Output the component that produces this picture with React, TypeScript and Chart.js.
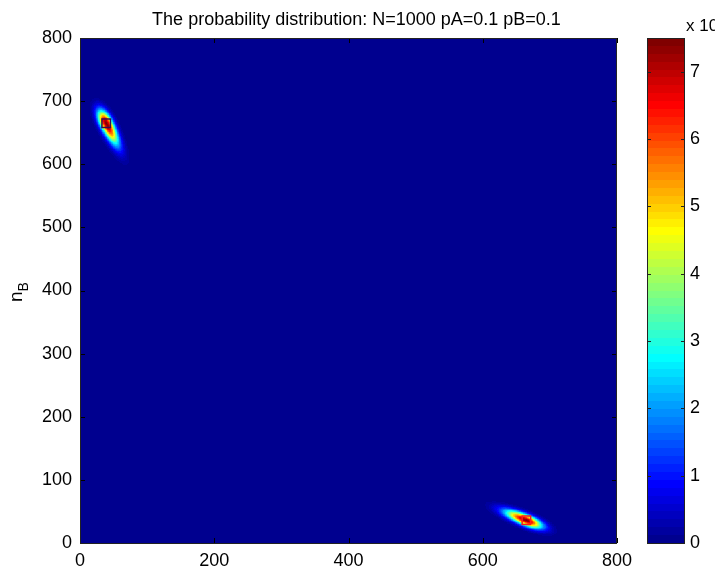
import React, { useEffect, useRef } from "react";
import { Chart, registerables } from "chart.js";

Chart.register(...registerables);

// ---------- text ----------
const TITLE = "The probability distribution: N=1000 pA=0.1 pB=0.1";
const Y_LABEL_MAIN = "n";
const Y_LABEL_SUB = "B";
const CB_EXP_BASE = "x 10";
const CB_EXP_POWER = "-3";

// ---------- axes ----------
const X_TICKS = [0, 200, 400, 600, 800];
const Y_TICKS = [0, 100, 200, 300, 400, 500, 600, 700, 800];
const CB_TICKS = [0, 1, 2, 3, 4, 5, 6, 7];
const AXIS_MIN = 0;
const AXIS_MAX = 800;
const CB_MIN = 0;
const CB_MAX = 7.5;

// ---------- the two probability peaks (units of 1e-3) ----------
const BLOB_CX = [39, 665];
const BLOB_CY = [665, 36];
const BLOB_TAIL_ANGLE_DEG = [-65, 157];
const BLOB_SIGMA_TAIL = [25, 23];
const BLOB_SIGMA_HEAD = [15, 17];
const BLOB_SIGMA_WIDTH = [6.3, 5.8];
const BLOB_PEAK = [7.4, 7.4];
const MARKER_COLORS = ["#3a0a4e", "#ff1a1a"];

const FONT = "'Liberation Sans', Arial, Helvetica, sans-serif";

// MATLAB jet(64)
function jet(m: number): string[] {
  const n = Math.ceil(m / 4);
  const u: number[] = [];
  for (let i = 1; i <= n; i++) u.push(i / n);
  for (let i = 0; i < n - 1; i++) u.push(1);
  for (let i = n; i >= 1; i--) u.push(i / n);
  const base = Math.ceil(n / 2) - (m % 4 === 1 ? 1 : 0);
  const g: number[] = u.map((_, i) => base + i + 1);
  const r = g.map((v) => v + n).filter((v) => v <= m);
  const b = g.map((v) => v - n).filter((v) => v >= 1);
  const gg = g.filter((v) => v <= m);
  const J = Array.from({ length: m }, () => [0, 0, 0]);
  r.forEach((idx, i) => (J[idx - 1][0] = u[i]));
  gg.forEach((idx, i) => (J[idx - 1][1] = u[i]));
  b.forEach((idx, i) => (J[idx - 1][2] = u[u.length - b.length + i]));
  return J.map(
    ([R, G, B]) =>
      `rgb(${Math.round(R * 255)},${Math.round(G * 255)},${Math.round(B * 255)})`
  );
}
const CMAP = jet(64);

function colorIndex(v: number): number {
  let idx = Math.floor(((v - CB_MIN) / (CB_MAX - CB_MIN)) * CMAP.length);
  if (idx < 0) idx = 0;
  if (idx > CMAP.length - 1) idx = CMAP.length - 1;
  return idx;
}

function blobValue(k: number, x: number, y: number): number {
  const dx = x - BLOB_CX[k];
  const dy = y - BLOB_CY[k];
  const a = (BLOB_TAIL_ANGLE_DEG[k] * Math.PI) / 180;
  const ux = Math.cos(a);
  const uy = Math.sin(a);
  const along = dx * ux + dy * uy;
  const across = -dx * uy + dy * ux;
  const sl = along >= 0 ? BLOB_SIGMA_TAIL[k] : BLOB_SIGMA_HEAD[k];
  const sw = BLOB_SIGMA_WIDTH[k];
  return BLOB_PEAK[k] * Math.exp(-0.5 * ((along * along) / (sl * sl) + (across * across) / (sw * sw)));
}

type Cell = { x: number; y: number; c: number };
function buildCells(): Cell[] {
  const cells: Cell[] = [];
  const seen = new Set<number>();
  for (let k = 0; k < BLOB_CX.length; k++) {
    const R = 4 * Math.max(BLOB_SIGMA_TAIL[k], BLOB_SIGMA_HEAD[k]);
    const x0 = Math.max(AXIS_MIN, Math.floor(BLOB_CX[k] - R));
    const x1 = Math.min(AXIS_MAX, Math.ceil(BLOB_CX[k] + R));
    const y0 = Math.max(AXIS_MIN, Math.floor(BLOB_CY[k] - R));
    const y1 = Math.min(AXIS_MAX, Math.ceil(BLOB_CY[k] + R));
    for (let x = x0; x <= x1; x++) {
      for (let y = y0; y <= y1; y++) {
        const key = x * 1000 + y;
        if (seen.has(key)) continue;
        seen.add(key);
        let v = 0;
        for (let j = 0; j < BLOB_CX.length; j++) v += blobValue(j, x, y);
        const c = colorIndex(v);
        if (c > 0) cells.push({ x, y, c });
      }
    }
  }
  return cells;
}

const heatmapPlugin = {
  id: "heatmap",
  beforeDatasetsDraw(chart: any) {
    const { ctx, chartArea, scales } = chart;
    const xs = scales.x;
    const ys = scales.y;
    const cells: Cell[] = chart.$cells || (chart.$cells = buildCells());
    ctx.save();
    ctx.beginPath();
    ctx.rect(chartArea.left, chartArea.top, chartArea.right - chartArea.left, chartArea.bottom - chartArea.top);
    ctx.clip();
    ctx.fillStyle = CMAP[0];
    const bx0 = xs.getPixelForValue(AXIS_MIN);
    const bx1 = xs.getPixelForValue(AXIS_MAX);
    const by0 = ys.getPixelForValue(AXIS_MAX);
    const by1 = ys.getPixelForValue(AXIS_MIN);
    ctx.fillRect(bx0, by0, bx1 - bx0, by1 - by0);
    for (const cell of cells) {
      const px0 = Math.round(xs.getPixelForValue(cell.x - 0.5));
      const px1 = Math.round(xs.getPixelForValue(cell.x + 0.5));
      const py0 = Math.round(ys.getPixelForValue(cell.y + 0.5));
      const py1 = Math.round(ys.getPixelForValue(cell.y - 0.5));
      if (px1 <= px0 || py1 <= py0) continue;
      ctx.fillStyle = CMAP[cell.c];
      ctx.fillRect(px0, py0, px1 - px0, py1 - py0);
    }
    ctx.restore();
  },
  afterDatasetsDraw(chart: any) {
    const { ctx, chartArea, scales } = chart;
    const { left, right, top, bottom } = chartArea;
    ctx.save();
    ctx.strokeStyle = "#000";
    ctx.lineWidth = 1;
    ctx.beginPath();
    const tl = 5;
    for (const v of X_TICKS) {
      const p = Math.round(scales.x.getPixelForValue(v)) + 0.5;
      ctx.moveTo(p, bottom);
      ctx.lineTo(p, bottom - tl);
      ctx.moveTo(p, top);
      ctx.lineTo(p, top + tl);
    }
    for (const v of Y_TICKS) {
      const p = Math.round(scales.y.getPixelForValue(v)) + 0.5;
      ctx.moveTo(left, p);
      ctx.lineTo(left + tl, p);
      ctx.moveTo(right, p);
      ctx.lineTo(right - tl, p);
    }
    ctx.stroke();
    ctx.strokeStyle = "#222";
    ctx.strokeRect(left + 0.5, top + 0.5, right - left - 1, bottom - top);
    ctx.restore();
  },
  afterDraw(chart: any) {
    const { ctx, chartArea, scales } = chart;
    const cb = scales.cb;
    ctx.save();
    // title
    ctx.fillStyle = "#000";
    ctx.font = `18px ${FONT}`;
    ctx.textAlign = "center";
    ctx.textBaseline = "alphabetic";
    ctx.fillText(TITLE, (chartArea.left + chartArea.right) / 2 + 8, 25);

    // y axis label n_B
    ctx.save();
    ctx.translate(22, 292);
    ctx.rotate(-Math.PI / 2);
    ctx.textAlign = "left";
    ctx.font = `19px ${FONT}`;
    const wn = ctx.measureText(Y_LABEL_MAIN).width;
    ctx.font = `14px ${FONT}`;
    const wb = ctx.measureText(Y_LABEL_SUB).width;
    const start = -(wn + wb) / 2;
    ctx.font = `19px ${FONT}`;
    ctx.fillText(Y_LABEL_MAIN, start, 0);
    ctx.font = `14px ${FONT}`;
    ctx.fillText(Y_LABEL_SUB, start + wn, 6);
    ctx.restore();

    // colorbar
    const cbLeft = 647;
    const cbRight = 685;
    const n = CMAP.length;
    for (let i = 0; i < n; i++) {
      const lo = CB_MIN + ((CB_MAX - CB_MIN) * i) / n;
      const hi = CB_MIN + ((CB_MAX - CB_MIN) * (i + 1)) / n;
      const y0 = Math.round(cb.getPixelForValue(hi));
      const y1 = Math.round(cb.getPixelForValue(lo));
      ctx.fillStyle = CMAP[i];
      ctx.fillRect(cbLeft, y0, cbRight - cbLeft, y1 - y0);
    }
    const cTop = Math.round(cb.getPixelForValue(CB_MAX));
    const cBot = Math.round(cb.getPixelForValue(CB_MIN));
    ctx.strokeStyle = "#222";
    ctx.lineWidth = 1;
    ctx.beginPath();
    for (const v of CB_TICKS) {
      const p = Math.round(cb.getPixelForValue(v)) + 0.5;
      ctx.moveTo(cbLeft, p);
      ctx.lineTo(cbLeft + 4, p);
      ctx.moveTo(cbRight, p);
      ctx.lineTo(cbRight - 4, p);
    }
    ctx.stroke();
    ctx.strokeRect(cbLeft + 0.5, cTop + 0.5, cbRight - cbLeft - 1, cBot - cTop);

    // exponent label
    ctx.fillStyle = "#000";
    ctx.textAlign = "left";
    ctx.font = `17px ${FONT}`;
    ctx.fillText(CB_EXP_BASE, 686, 31);
    const wbase = ctx.measureText(CB_EXP_BASE).width;
    ctx.font = `12px ${FONT}`;
    ctx.fillText(CB_EXP_POWER, 686 + wbase + 1, 23);
    ctx.restore();
  },
};

export default function App() {
  const ref = useRef<HTMLCanvasElement | null>(null);
  useEffect(() => {
    document.body.style.margin = "0";
    const canvas = ref.current;
    if (!canvas) return;
    const tickFont = { family: FONT, size: 18 };
    const noPad = (s: any) => {
      s.paddingTop = 0;
      s.paddingBottom = 0;
      s.paddingLeft = 0;
      s.paddingRight = 0;
    };
    const chart = new Chart(canvas, {
      type: "scatter",
      data: {
        datasets: [
          {
            data: BLOB_CX.map((x, i) => ({ x, y: BLOB_CY[i] })),
            pointStyle: "rect",
            radius: 6,
            pointRadius: 6,
            backgroundColor: "rgba(0,0,0,0)",
            borderColor: MARKER_COLORS,
            borderWidth: 1.5,
          } as any,
        ],
      },
      options: {
        responsive: false,
        animation: false,
        devicePixelRatio: 1,
        events: [],
        layout: { padding: { top: 38, left: 0, right: 0, bottom: 0 } },
        plugins: {
          legend: { display: false },
          tooltip: { enabled: false },
          title: { display: false },
        },
        scales: {
          x: {
            type: "linear",
            position: "bottom",
            min: AXIS_MIN,
            max: AXIS_MAX,
            grid: { display: false, drawTicks: false },
            border: { display: false },
            afterFit: (s: any) => {
              s.height = 29;
              noPad(s);
            },
            afterBuildTicks: (s: any) => {
              s.ticks = X_TICKS.map((v) => ({ value: v }));
            },
            ticks: { color: "#000", font: tickFont, padding: 7, maxRotation: 0, autoSkip: false },
          },
          y: {
            type: "linear",
            position: "left",
            min: AXIS_MIN,
            max: AXIS_MAX,
            grid: { display: false, drawTicks: false },
            border: { display: false },
            afterFit: (s: any) => {
              s.width = 80;
              noPad(s);
            },
            afterBuildTicks: (s: any) => {
              s.ticks = Y_TICKS.map((v) => ({ value: v }));
            },
            ticks: { color: "#000", font: tickFont, padding: 8, autoSkip: false },
          },
          cb: {
            type: "linear",
            position: "right",
            min: CB_MIN,
            max: CB_MAX,
            grid: { display: false, drawTicks: false },
            border: { display: false },
            afterFit: (s: any) => {
              s.width = 98;
              noPad(s);
            },
            afterBuildTicks: (s: any) => {
              s.ticks = CB_TICKS.map((v) => ({ value: v }));
            },
            ticks: { color: "#000", font: tickFont, padding: 73, autoSkip: false },
          },
        },
      } as any,
      plugins: [heatmapPlugin],
    });
    return () => chart.destroy();
  }, []);
  return (
    <div style={{ position: "relative", width: 715, height: 572 }}>
      <canvas ref={ref} width={715} height={572} style={{ display: "block", width: 715, height: 572 }} />
    </div>
  );
}
